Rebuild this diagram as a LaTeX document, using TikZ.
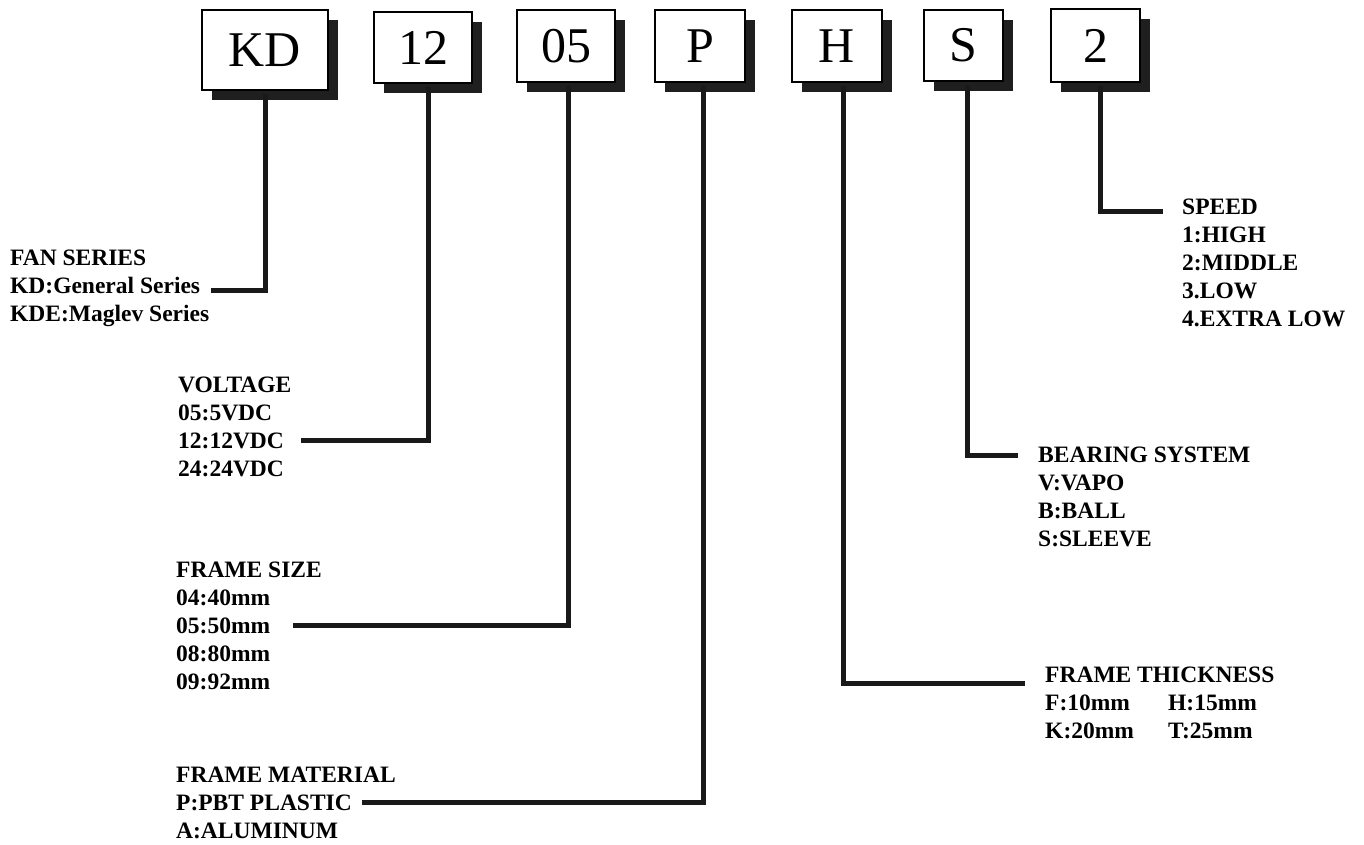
\documentclass[tikz,border=0pt]{standalone}
\usepackage{fontspec}
\setmainfont{Liberation Serif}
\usetikzlibrary{shadows}
\tikzset{
  codebox/.style={draw=black, line width=2pt, fill=white, inner sep=0pt,
    font=\fontsize{50}{54}\selectfont,
    drop shadow={shadow xshift=10pt, shadow yshift=-10pt, fill=black!88, opacity=1}},
  conn/.style={draw=black!90, line width=5pt, line join=miter, line cap=rect},
  lbl/.style={anchor=north west, inner sep=0pt, align=left,
    font=\bfseries\fontsize{23.5}{28}\selectfont}
}
\begin{document}
\begin{tikzpicture}[x=1pt,y=-1pt]
\useasboundingbox (0,0) rectangle (1364,845);
% code boxes
\node[codebox, minimum width=126pt, minimum height=80pt] (kd) at (265,50) {KD};
\node[codebox, minimum width=98pt, minimum height=71pt] (v12) at (423,47.5) {12};
\node[codebox, minimum width=98pt, minimum height=72pt] (v05) at (566,46) {05};
\node[codebox, minimum width=90pt, minimum height=72pt] (vp) at (700,46) {P};
\node[codebox, minimum width=90pt, minimum height=72pt] (vh) at (837,46) {H};
\node[codebox, minimum width=79pt, minimum height=71pt] (vs) at (963.5,45.5) {S};
\node[codebox, minimum width=89pt, minimum height=73pt] (v2) at (1095.5,45.5) {2};
% labels
\node[lbl] (lfan) at (10,250) {FAN SERIES\\KD:General Series\\KDE:Maglev Series};
\node[lbl] (lvolt) at (178,377) {VOLTAGE\\05:5VDC\\12:12VDC\\24:24VDC};
\node[lbl] (lsize) at (176,562) {FRAME SIZE\\04:40mm\\05:50mm\\08:80mm\\09:92mm};
\node[lbl] (lmat) at (176,767) {FRAME MATERIAL\\P:PBT PLASTIC\\A:ALUMINUM};
\node[lbl] (lthick) at (1045,667) {FRAME THICKNESS\\\makebox[123pt][l]{F:10mm}H:15mm\\\makebox[123pt][l]{K:20mm}T:25mm};
\node[lbl] (lbear) at (1038,447) {BEARING SYSTEM\\V:VAPO\\B:BALL\\S:SLEEVE};
\node[lbl] (lspeed) at (1182,199) {SPEED\\1:HIGH\\2:MIDDLE\\3.LOW\\4.EXTRA LOW};
% connector ends
\coordinate (ekd) at (213,290);
\coordinate (e12) at (303,440);
\coordinate (e05) at (295,625);
\coordinate (ep) at (364,802);
\coordinate (eh) at (1022,683);
\coordinate (es) at (1015,455);
\coordinate (e2) at (1160,211);
% connectors
\draw[conn] ([yshift=-6pt]kd.south) |- (ekd);
\draw[conn] ([xshift=5pt,yshift=-6pt]v12.south) |- (e12);
\draw[conn] ([xshift=2pt,yshift=-6pt]v05.south) |- (e05);
\draw[conn] ([xshift=3pt,yshift=-6pt]vp.south) |- (ep);
\draw[conn] ([xshift=6pt,yshift=-6pt]vh.south) |- (eh);
\draw[conn] ([xshift=3.5pt,yshift=-6pt]vs.south) |- (es);
\draw[conn] ([xshift=4.5pt,yshift=-6pt]v2.south) |- (e2);
\end{tikzpicture}
\end{document}
